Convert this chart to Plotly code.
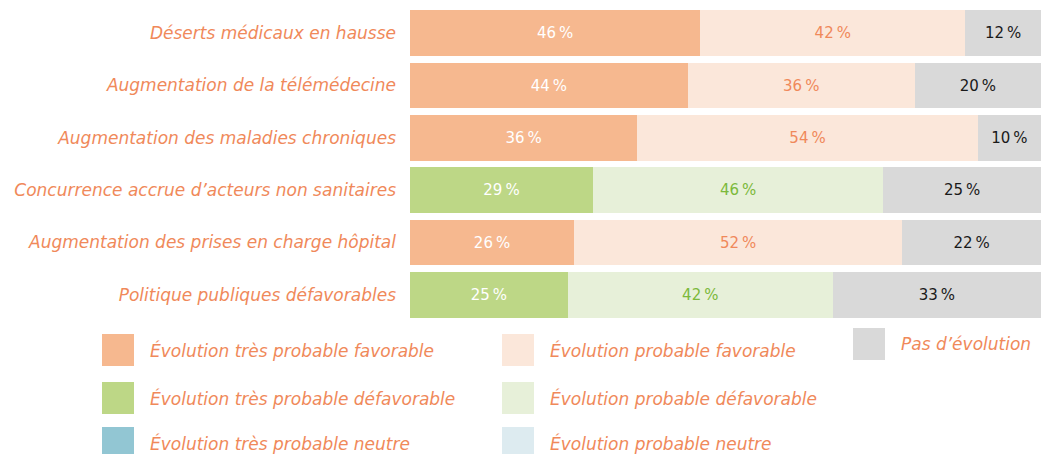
import plotly.graph_objects as go

categories = [
    "Déserts médicaux en hausse",
    "Augmentation de la télémédecine",
    "Augmentation des maladies chroniques",
    "Concurrence accrue d’acteurs non sanitaires",
    "Augmentation des prises en charge hôpital",
    "Politique publiques défavorables",
]
tres_probable = [46, 44, 36, 29, 26, 25]
probable = [42, 36, 54, 46, 52, 42]
pas_evolution = [12, 20, 10, 25, 22, 33]
direction = ["favorable", "favorable", "favorable", "défavorable", "favorable", "défavorable"]

legend_labels = [
    ["Évolution très probable favorable", "Évolution probable favorable", "Pas d’évolution"],
    ["Évolution très probable défavorable", "Évolution probable défavorable"],
    ["Évolution très probable neutre", "Évolution probable neutre"],
]

ORANGE = "#F0895A"
GREEN_TXT = "#7CB93B"
col_tp = {"favorable": "#F6B88F", "défavorable": "#BDD786", "neutre": "#92C6D3"}
col_p = {"favorable": "#FBE7DA", "défavorable": "#E7F0D9", "neutre": "#DDEBF0"}
txt_p = {"favorable": ORANGE, "défavorable": GREEN_TXT, "neutre": "#5AA0B5"}
GREY = "#D9D9D9"
legend_colors = [
    [col_tp["favorable"], col_p["favorable"], GREY],
    [col_tp["défavorable"], col_p["défavorable"]],
    [col_tp["neutre"], col_p["neutre"]],
]

FONT = "DejaVu Sans"
W, H = 1041, 454
ML, MR, MT, MB = 410, 0, 7, 133
PW = W - ML - MR
PH = H - MT - MB

def fmt(v):
    return [f"{x}\u202f%" for x in v]

numfont = dict(size=15, family=FONT, weight=400)

fig = go.Figure()
fig.add_bar(
    y=categories, x=tres_probable, orientation="h",
    marker=dict(color=[col_tp[d] for d in direction], line=dict(width=0)),
    text=fmt(tres_probable), textposition="inside", insidetextanchor="middle",
    textfont=dict(color="white", **numfont), textangle=0,
    constraintext="none", hoverinfo="skip",
)
fig.add_bar(
    y=categories, x=probable, orientation="h",
    marker=dict(color=[col_p[d] for d in direction], line=dict(width=0)),
    text=fmt(probable), textposition="inside", insidetextanchor="middle",
    textfont=dict(color=[txt_p[d] for d in direction], **numfont), textangle=0,
    constraintext="none", hoverinfo="skip",
)
fig.add_bar(
    y=categories, x=pas_evolution, orientation="h",
    marker=dict(color=GREY, line=dict(width=0)),
    text=fmt(pas_evolution), textposition="inside", insidetextanchor="middle",
    textfont=dict(color="#1A1A1A", **numfont), textangle=0,
    constraintext="none", hoverinfo="skip",
)

def px_x(px):
    return (px - ML) / PW

def px_y(py):
    return (H - MB - py) / PH

labfont = dict(family=FONT, size=17, color=ORANGE, style="italic", weight=200)

# legend built from shapes + annotations (page pixel positions)
col_x = [102, 502, 853]
row_y = [350, 398, 443]
row_y_third = 344
for r, (labels, colors) in enumerate(zip(legend_labels, legend_colors)):
    for c, (lab, colr) in enumerate(zip(labels, colors)):
        cy = row_y[r] if c < 2 else row_y_third
        x0 = col_x[c]
        fig.add_shape(type="rect", xref="paper", yref="paper",
                      x0=px_x(x0), x1=px_x(x0 + 32), y0=px_y(cy - 16), y1=px_y(cy + 16),
                      fillcolor=colr, line=dict(width=0), layer="above")
        fig.add_annotation(xref="paper", yref="paper", x=px_x(x0 + 46), y=px_y(cy),
                           text=lab, showarrow=False, xanchor="left", yanchor="middle",
                           font=labfont)

fig.update_layout(
    barmode="stack", bargap=0.13,
    width=W, height=H,
    margin=dict(l=ML, r=MR, t=MT, b=MB),
    paper_bgcolor="white", plot_bgcolor="white",
    showlegend=False,
    xaxis=dict(range=[0, 100], visible=False, fixedrange=True),
    yaxis=dict(autorange="reversed", showgrid=False, zeroline=False, showline=False,
               ticks="", ticklabelstandoff=13, tickfont=labfont, fixedrange=True),
    uniformtext=dict(mode=False),
)
fig.write_html(
    "out.html",
    config={"displayModeBar": False},
    post_script="document.body.style.margin='0';document.body.style.overflow='hidden';",
)
